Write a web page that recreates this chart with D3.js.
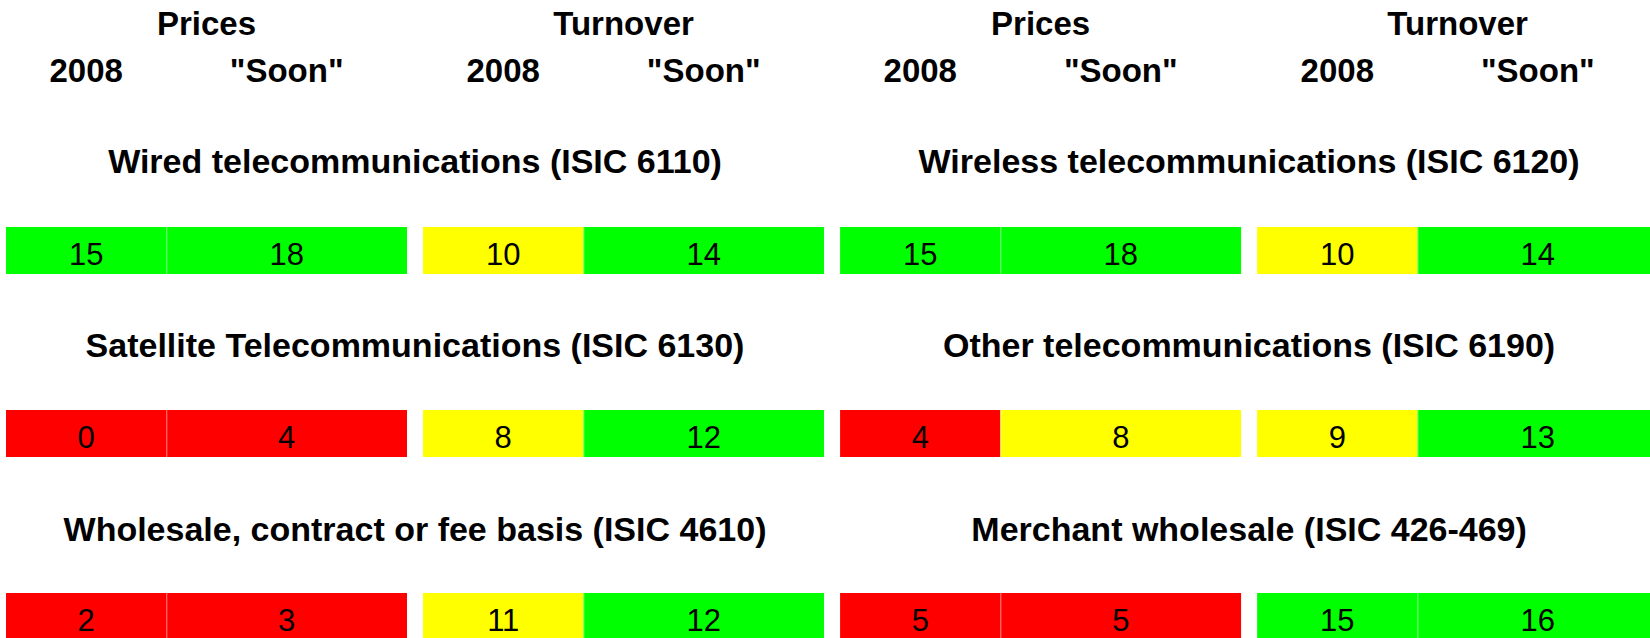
<!DOCTYPE html>
<html>
<head>
<meta charset="utf-8">
<script src="https://cdn.jsdelivr.net/npm/d3@7"></script>
<style>
  body { margin: 0; background: #fff; }
  svg { display: block; }
  .head { font-family: "Liberation Sans", Arial, sans-serif; font-weight: bold; font-size: 33px; fill: #000; }
  .title { font-family: "Liberation Sans", Arial, sans-serif; font-weight: bold; font-size: 34px; fill: #000; }
  .val { font-family: "Liberation Sans", Arial, sans-serif; font-size: 31px; fill: #000; }
</style>
</head>
<body>
<div id="vis"></div>
<script>
// data
var sectors = [
    "Wired telecommunications (ISIC 6110)",
    "Wireless telecommunications (ISIC 6120)",
    "Satellite Telecommunications (ISIC 6130)",
    "Other telecommunications (ISIC 6190)",
    "Wholesale, contract or fee basis (ISIC 4610)",
    "Merchant wholesale (ISIC 426-469)"
];
var measures = ["Prices", "Turnover"];
var periods = ["2008", "\"Soon\""];
var prices2008 = [15, 15, 0, 4, 2, 5];
var pricesSoon = [18, 18, 4, 8, 3, 5];
var turnover2008 = [10, 10, 8, 9, 11, 15];
var turnoverSoon = [14, 14, 12, 13, 12, 16];

var width = 1650, height = 638;

var svg = d3.select('#vis').append('svg')
    .attr('width', width)
    .attr('height', height);

// horizontal layout in "units": a 2008 cell is 2 units, a "Soon" cell 3 units
var unit = 80.2;
var x = d3.scaleLinear().domain([0, 1]).range([6, 6 + unit]);
var periodStart = [0, 2], periodWidth = [2, 3];
var groupStart = [0, 5.2];
var panelStart = [0, 10.4];

// rows
var rowTitleY = d3.scaleLinear().domain([0, 1]).range([173, 357]);
var rowBarY = d3.scaleLinear().domain([0, 1]).range([227, 410]);
var barH = 47;

// rating colour
var color = d3.scaleThreshold()
    .domain([8, 12])
    .range(["#ff0000", "#ffff00", "#00ff00"]);

var series = [[prices2008, pricesSoon], [turnover2008, turnoverSoon]];

var cells = [];
sectors.forEach(function (s, i) {
    var panel = i % 2, row = Math.floor(i / 2);
    measures.forEach(function (m, mi) {
        periods.forEach(function (p, pi) {
            var u0 = panelStart[panel] + groupStart[mi] + periodStart[pi];
            cells.push({
                sector: s, panel: panel, row: row, measure: m, period: p,
                value: series[mi][pi][i],
                u0: u0, u1: u0 + periodWidth[pi], pi: pi
            });
        });
    });
});

// column headers
panelStart.forEach(function (ps) {
    measures.forEach(function (m, mi) {
        svg.append('text')
            .attr('class', 'head')
            .attr('x', x(ps + groupStart[mi] + 2.5))
            .attr('y', 35)
            .attr('text-anchor', 'middle')
            .text(m);
        periods.forEach(function (p, pi) {
            svg.append('text')
                .attr('class', 'head')
                .attr('x', x(ps + groupStart[mi] + periodStart[pi] + periodWidth[pi] / 2))
                .attr('y', 82)
                .attr('text-anchor', 'middle')
                .text(p);
        });
    });
});

// sector titles
svg.selectAll('.title')
    .data(sectors)
    .enter().append('text')
    .attr('class', 'title')
    .attr('x', function (d, i) { return x(panelStart[i % 2] + 5.1); })
    .attr('y', function (d, i) { return rowTitleY(Math.floor(i / 2)); })
    .attr('text-anchor', 'middle')
    .text(function (d) { return d; });

// bars
svg.selectAll('.cell')
    .data(cells)
    .enter().append('rect')
    .attr('class', 'cell')
    .attr('x', function (d) { return x(d.u0); })
    .attr('y', function (d) { return rowBarY(d.row); })
    .attr('width', function (d) { return x(d.u1) - x(d.u0); })
    .attr('height', barH)
    .attr('fill', function (d) { return color(d.value); });

// faint divider between the two cells of a group
svg.selectAll('.divider')
    .data(cells.filter(function (d) { return d.pi === 1; }))
    .enter().append('line')
    .attr('class', 'divider')
    .attr('x1', function (d) { return x(d.u0) + 0.5; })
    .attr('x2', function (d) { return x(d.u0) + 0.5; })
    .attr('y1', function (d) { return rowBarY(d.row); })
    .attr('y2', function (d) { return rowBarY(d.row) + barH; })
    .attr('stroke', 'rgba(255,255,255,0.35)')
    .attr('stroke-width', 1);

svg.selectAll('.val')
    .data(cells)
    .enter().append('text')
    .attr('class', 'val')
    .attr('x', function (d) { return (x(d.u0) + x(d.u1)) / 2; })
    .attr('y', function (d) { return rowBarY(d.row) + 38; })
    .attr('text-anchor', 'middle')
    .text(function (d) { return d.value; });
</script>
</body>
</html>
